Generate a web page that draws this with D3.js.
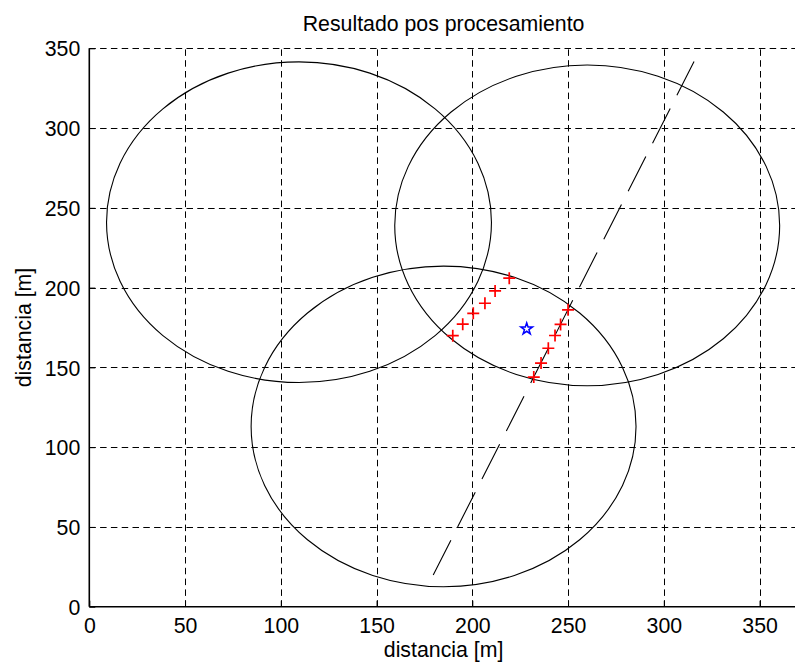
<!DOCTYPE html>
<html>
<head>
<meta charset="utf-8">
<script src="https://cdn.jsdelivr.net/npm/d3@7/dist/d3.min.js"></script>
<style>
  html, body { margin: 0; padding: 0; background: #fff; }
  svg { display: block; }
  text { font-family: "Liberation Sans", Arial, sans-serif; fill: #000; }
</style>
</head>
<body>
<div id="chart"></div>
<script>
// Axis ticks
const xTicks = [0, 50, 100, 150, 200, 250, 300, 350];
const yTicks = [0, 50, 100, 150, 200, 250, 300, 350];

// Range circles (center and radius, metres)
const circleCx = [109.5, 260, 185];
const circleCy = [241, 239, 113];
const circleR  = [100.5, 100.5, 100.5];

// Dashed trajectory line (end points)
const lineX = [179.6, 315.8];
const lineY = [19.9, 341.7];

// Candidate positions after processing (two groups)
const leftX  = [189.8, 195.0, 200.5, 206.6, 211.9, 219.3];
const leftY  = [169.9, 177.1, 183.9, 190.2, 197.9, 205.9];
const rightX = [232.1, 235.9, 239.7, 243.2, 246.1, 250.0];
const rightY = [143.9, 152.7, 162.0, 170.0, 176.9, 186.1];

// Estimated position
const starX = [228.4];
const starY = [174.1];

const W = 795, H = 663;
const plotLeft = 89.3, plotTop = 48.3, plotBottom = 606.7;
const xMax = 370;
const pxPerUnitX = 1.915;

const svg = d3.select("#chart").append("svg")
  .attr("width", W).attr("height", H);

const x = d3.scaleLinear().domain([0, xMax]).range([plotLeft, plotLeft + xMax * pxPerUnitX]);
const y = d3.scaleLinear().domain([0, 350]).range([plotBottom, plotTop]);

const FS = 21.3;

// Grid lines
const grid = svg.append("g")
  .attr("stroke", "#000").attr("stroke-width", 1)
  .attr("stroke-dasharray", "6.5,4.3").attr("fill", "none");
grid.selectAll("line.v").data(xTicks.filter(d => d > 0)).join("line")
  .attr("class", "v")
  .attr("x1", d => Math.round(x(d)) + 0.5).attr("x2", d => Math.round(x(d)) + 0.5)
  .attr("y1", y(0)).attr("y2", y(350));
grid.selectAll("line.h").data(yTicks.filter(d => d > 0)).join("line")
  .attr("class", "h")
  .attr("y1", d => Math.round(y(d)) + 0.5).attr("y2", d => Math.round(y(d)) + 0.5)
  .attr("x1", x(0)).attr("x2", x(xMax));

// Axes with inward ticks
const xAxis = d3.axisBottom(x).tickValues(xTicks).tickSize(-6).tickPadding(16);
const yAxis = d3.axisLeft(y).tickValues(yTicks).tickSize(-6).tickPadding(14);

const gx = svg.append("g").attr("transform", `translate(0,${y(0)})`).call(xAxis);
const gy = svg.append("g").attr("transform", `translate(${x(0)},0)`).call(yAxis);
[gx, gy].forEach(g => {
  g.select(".domain").attr("stroke", "#000").attr("stroke-width", 1.6);
  g.selectAll(".tick line").attr("stroke", "#000").attr("stroke-width", 1);
  g.selectAll(".tick text").attr("font-size", FS)
    .attr("font-family", "Liberation Sans, Arial, sans-serif").attr("fill", "#000");
});
// left and bottom spines only
gx.select(".domain").attr("d", `M${x(0)},0H${x(xMax)}`);
gy.select(".domain").attr("d", `M0,${y(0)}V${y(350)}`);
gx.selectAll(".tick text").attr("dy", "0.71em").attr("y", 11);
gy.selectAll(".tick text").attr("x", -9).attr("dy", "0.36em");

// Circles
const circles = circleCx.map((cx, i) => ({ cx, cy: circleCy[i], r: circleR[i] }));
svg.append("g").selectAll("ellipse").data(circles).join("ellipse")
  .attr("cx", d => x(d.cx)).attr("cy", d => y(d.cy))
  .attr("rx", d => x(d.r) - x(0)).attr("ry", d => y(0) - y(d.r))
  .attr("fill", "none").attr("stroke", "#000").attr("stroke-width", 1.1);

// Dashed line
const lineData = lineX.map((v, i) => [v, lineY[i]]);
svg.append("path")
  .datum(lineData)
  .attr("d", d3.line().x(d => x(d[0])).y(d => y(d[1])))
  .attr("fill", "none").attr("stroke", "#000").attr("stroke-width", 1.1)
  .attr("stroke-dasharray", "39,14.8");

// Red plus markers
const pts = leftX.map((v, i) => [v, leftY[i]]).concat(rightX.map((v, i) => [v, rightY[i]]));
const m = 6;
svg.append("g").selectAll("path").data(pts).join("path")
  .attr("transform", d => `translate(${x(d[0])},${y(d[1])})`)
  .attr("d", `M${-m},0H${m}M0,${-m}V${m}`)
  .attr("stroke", "#ff0000").attr("stroke-width", 1.7).attr("fill", "none");

// Blue star
const starPts = starX.map((v, i) => [v, starY[i]]);
svg.append("g").selectAll("path").data(starPts).join("path")
  .attr("transform", d => `translate(${x(d[0])},${y(d[1])})`)
  .attr("d", d3.symbol().type(d3.symbolStar).size(42))
  .attr("stroke", "#0000ff").attr("stroke-width", 1.5).attr("fill", "none");

// Title and axis labels
svg.append("text")
  .attr("x", (x(0) + x(xMax)) / 2).attr("y", 31)
  .attr("text-anchor", "middle").attr("font-size", FS)
  .text("Resultado pos procesamiento");

svg.append("text")
  .attr("x", (x(0) + x(xMax)) / 2).attr("y", 657)
  .attr("text-anchor", "middle").attr("font-size", FS)
  .text("distancia [m]");

svg.append("text")
  .attr("transform", `translate(31,${(y(0) + y(350)) / 2}) rotate(-90)`)
  .attr("text-anchor", "middle").attr("font-size", FS)
  .text("distancia [m]");
</script>
</body>
</html>
